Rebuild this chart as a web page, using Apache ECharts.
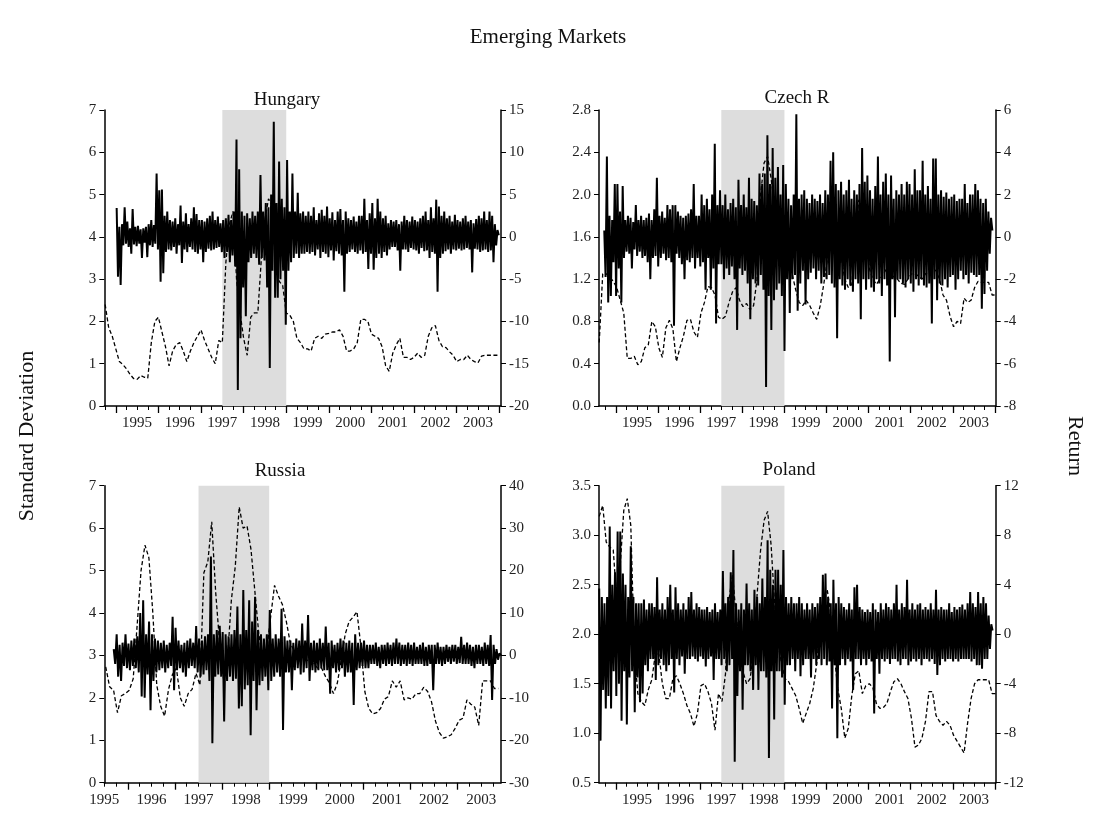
<!DOCTYPE html>
<html><head><meta charset="utf-8">
<script src="https://cdn.jsdelivr.net/npm/echarts@6/dist/echarts.min.js"></script>
<style>html,body{margin:0;padding:0;background:#fff}#c{width:1095px;height:813px}</style>
</head><body><div id="c"></div><script>
// ---------- DATA ----------
const yearLabels = [1995, 1996, 1997, 1998, 1999, 2000, 2001, 2002, 2003];
const shadeRange = [1997.0, 1998.5];
const stdStep = 1 / 12;   // monthly readings of the standard deviation
const retStep = 1 / 32;   // return readings

const huStdStart = 1994.25;
const huStd = [2.4,1.85,1.65,1.35,1.05,0.98,0.88,0.75,0.65,0.63,
0.72,0.68,0.66,1.5,2.0,2.1,1.75,1.4,0.95,1.3,
1.45,1.5,1.3,1.05,1.3,1.5,1.65,1.8,1.55,1.35,
1.15,1.0,1.55,1.5,3.4,4.3,4.6,3.0,2.2,1.6,
1.2,2.1,2.2,2.2,3.5,4.4,4.9,4.75,3.3,2.95,
2.85,2.2,2.15,2.0,1.6,1.5,1.35,1.35,1.3,1.6,
1.65,1.6,1.7,1.72,1.75,1.75,1.8,1.65,1.3,1.3,
1.35,1.5,2.05,2.05,2.0,1.7,1.65,1.6,1.4,0.95,
0.82,1.25,1.45,1.6,1.15,1.15,1.1,1.15,1.25,1.15,
1.2,1.65,1.85,1.9,1.55,1.4,1.38,1.28,1.2,1.05,
1.1,1.1,1.2,1.1,1.05,1.02,1.18,1.2,1.2,1.2,
1.2,1.2];
const huRetStart = 1994.52;
const huRet = [3.4,-4.7,1.2,-5.7,1.5,-1.0,3.5,-0.8,
1.8,-1.2,1.0,-2.0,3.3,-0.9,1.2,-1.1,
1.3,-0.8,0.9,-2.5,1.0,-0.7,1.2,-2.4,
1.5,-1.0,2.0,-1.2,1.4,-0.8,7.5,-1.5,
5.5,-5.3,5.6,-4.3,2.5,-1.8,3.0,-1.5,
2.0,-1.6,1.8,-1.2,2.2,-2.0,1.5,-1.0,
3.7,-3.1,1.8,-1.5,2.8,-1.8,1.5,-1.2,
2.2,-1.5,3.5,-1.8,2.7,-2.0,2.0,-1.5,
2.0,-3.0,1.8,-1.8,2.2,-1.4,2.5,-1.6,
3.0,-1.5,2.0,-1.3,2.4,-1.2,1.6,-1.8,
2.0,-2.5,2.2,-1.8,2.6,-3.0,2.0,-2.2,
3.0,-3.5,11.5,-18.1,8.0,-12.0,3.0,-6.0,
2.5,-9.4,2.8,-3.0,2.2,-2.5,3.0,-2.0,
2.5,-2.5,3.0,-3.3,7.3,-2.5,3.0,-2.8,
4.0,-6.0,3.5,-15.5,5.0,-4.0,13.6,-7.2,
4.0,-7.2,8.9,-5.0,4.5,-4.0,3.5,-10.4,
9.1,-4.0,3.0,-3.0,7.5,-2.5,3.0,-2.0,
5.2,-2.5,2.8,-2.0,3.0,-2.0,2.5,-1.8,
3.0,-2.0,2.5,-1.8,3.5,-2.2,2.0,-1.5,
2.8,-2.5,3.2,-1.8,2.5,-2.0,3.6,-2.4,
2.2,-1.6,2.9,-2.8,2.0,-1.7,3.0,-2.0,
3.3,-2.2,2.0,-6.5,3.0,-2.0,2.2,-1.8,
2.0,-1.5,2.4,-1.8,1.8,-2.0,2.5,-1.6,
2.5,-2.0,4.5,-1.8,2.0,-3.8,2.8,-2.0,
4.0,-3.9,2.2,-2.5,4.5,-2.0,3.0,-2.5,
2.2,-1.8,2.5,-2.2,1.6,-1.5,2.0,-1.2,
1.8,-1.2,2.0,-1.6,1.5,-4.0,1.8,-1.5,
2.5,-1.5,2.0,-1.8,1.8,-1.3,2.4,-1.5,
2.0,-1.6,1.8,-2.0,2.2,-1.3,2.5,-1.7,
3.0,-1.6,2.0,-2.5,3.5,-1.8,2.2,-2.0,
4.4,-6.5,3.6,-2.5,2.5,-2.0,3.0,-1.7,
2.2,-1.5,2.5,-2.0,1.8,-1.5,2.6,-1.6,
2.0,-1.4,1.8,-1.6,2.2,-1.5,2.5,-1.3,
1.8,-1.5,2.0,-4.2,1.6,-1.4,2.1,-1.5,
2.5,-1.8,2.2,-1.6,3.0,-1.5,2.0,-1.8,
3.0,-1.6,2.5,-3.0,1.5,-1.0,0.8,0.2];

const czStdStart = 1994.1;
const czStd = [0.6,1.25,1.25,1.22,1.18,1.12,1.0,0.88,0.45,0.45,
0.47,0.39,0.42,0.55,0.58,0.8,0.75,0.55,0.46,0.74,
0.81,0.73,0.42,0.55,0.66,0.81,0.82,0.7,0.65,0.88,
0.98,1.13,1.12,1.05,0.84,0.82,0.85,0.98,1.08,1.12,
1.0,0.94,0.97,0.91,0.95,1.2,2.0,2.3,2.36,2.15,
1.9,1.75,1.6,1.5,1.4,1.25,1.1,0.98,0.95,1.0,
0.95,0.88,0.82,0.95,1.15,1.38,1.5,1.6,1.55,1.4,
1.2,1.12,1.15,1.6,1.95,1.9,1.6,1.3,1.2,1.15,
1.2,1.25,1.3,1.25,1.22,1.2,1.16,1.15,1.2,1.25,
1.25,1.23,1.2,1.25,1.27,1.3,1.28,1.2,1.05,1.0,
0.85,0.75,0.8,0.78,1.02,0.98,1.0,1.12,1.18,1.17,
1.17,1.17,1.05,1.05];
const czRetStart = 1994.22;
const czRet = [0.3,-1.9,3.8,-3.1,1.0,-2.8,0.8,-1.2,
2.5,-2.8,2.5,-1.5,1.2,-3.1,2.4,-1.0,
0.8,-0.7,1.0,-0.8,0.9,-1.5,0.7,-0.6,
1.5,-0.9,0.8,-0.7,1.0,-1.0,0.8,-0.9,
0.9,-1.2,1.1,-2.0,0.8,-1.0,1.3,-0.9,
2.8,-1.4,1.0,-1.0,1.2,-0.8,0.9,-1.1,
1.5,-1.0,1.3,-1.2,1.5,-4.2,1.5,-0.8,
1.2,-1.0,1.0,-1.3,0.9,-2.0,1.0,-1.1,
1.1,-1.2,1.3,-1.0,2.5,-1.5,1.0,-1.0,
1.0,-1.4,2.0,-1.2,1.5,-2.5,1.8,-1.0,
1.3,-2.5,2.0,-1.5,4.4,-4.1,1.5,-1.3,
2.2,-1.3,1.5,-2.0,2.0,-1.5,1.3,-1.8,
1.6,-1.4,1.8,-2.0,1.4,-4.4,2.7,-1.5,
1.5,-1.8,2.0,-1.6,1.4,-2.2,2.8,-3.9,
1.8,-2.0,1.7,-2.2,1.5,-2.3,3.0,-1.8,
2.5,-2.5,3.0,-7.1,4.8,-2.8,2.5,-4.4,
4.2,-3.0,2.8,-2.5,3.3,-2.2,2.0,-2.8,
3.4,-5.4,2.5,-2.0,1.8,-3.6,1.5,-2.0,
2.0,-1.8,5.8,-3.5,1.8,-2.2,2.0,-1.6,
2.2,-3.2,1.8,-2.0,1.6,-1.7,2.0,-1.5,
1.8,-2.0,1.7,-1.6,2.0,-2.2,1.6,-1.9,
2.2,-2.0,2.0,-1.8,3.6,-2.2,4.0,-2.4,
2.5,-4.8,2.2,-2.0,2.6,-2.3,2.0,-2.5,
2.2,-2.0,2.7,-2.3,1.8,-2.6,2.2,-2.0,
2.0,-2.2,2.5,-3.9,4.2,-2.0,2.6,-2.5,
2.9,-2.0,2.2,-2.4,1.8,-2.6,2.4,-2.0,
3.8,-2.2,2.0,-2.8,2.6,-2.0,3.0,-2.3,
2.0,-5.9,2.9,-2.0,1.8,-3.8,2.2,-2.0,
2.0,-2.0,2.5,-2.2,2.0,-2.4,2.6,-2.0,
2.5,-2.2,2.0,-2.6,3.2,-2.0,2.2,-2.3,
2.2,-2.0,3.6,-2.3,2.0,-2.4,2.4,-2.2,
1.8,-4.1,3.7,-2.0,3.7,-3.0,2.0,-2.2,
2.2,-2.3,1.9,-2.0,2.1,-2.4,1.8,-1.9,
1.9,-1.8,2.0,-2.5,1.7,-2.0,1.8,-1.6,
1.8,-2.0,2.5,-1.8,1.6,-2.2,2.0,-1.7,
2.0,-1.8,2.5,-1.9,2.2,-1.8,1.8,-3.4,
1.6,-2.7,1.8,-1.6,1.2,-0.8,0.9,0.3];

const ruStdStart = 1995.03;
const ruStd = [2.73,2.26,2.18,1.65,2.05,2.1,2.18,2.45,3.7,5.0,
5.6,5.3,4.0,2.3,1.8,1.57,2.2,2.55,2.7,2.0,
1.8,2.1,2.2,2.58,2.3,4.95,5.2,6.15,4.5,3.3,
2.45,2.9,4.3,5.1,6.5,6.0,6.05,5.5,4.5,3.5,
2.9,3.1,3.9,4.65,4.4,4.2,3.8,3.3,3.1,3.0,
3.0,2.9,2.85,2.8,2.7,2.7,2.5,2.35,2.1,2.35,
2.9,3.5,3.8,3.9,4.03,3.2,2.15,1.75,1.62,1.65,
1.75,1.97,2.03,2.4,2.25,2.4,1.95,2.0,1.97,2.1,
2.1,2.25,2.15,1.9,1.45,1.18,1.05,1.08,1.13,1.28,
1.47,1.52,1.95,1.85,1.78,1.35,2.4,2.4,2.4,2.22,
2.22];
const ruRetStart = 1995.2;
const ruRet = [1.5,-2.0,5.0,-5.0,2.5,-6.0,3.0,-2.5,
5.0,-3.0,2.8,-3.5,3.5,-2.5,4.0,-3.0,
4.5,-4.0,10.0,-9.7,13.0,-10.0,5.0,-4.5,
8.0,-12.9,5.0,-6.0,4.0,-4.0,3.5,-3.5,
3.0,-3.0,3.5,-4.0,2.5,-3.0,3.0,-2.5,
9.1,-8.2,6.5,-3.5,3.5,-3.0,2.5,-4.0,
3.0,-5.0,3.5,-3.0,4.0,-2.5,3.0,-3.0,
6.9,-4.0,4.0,-5.0,3.5,-4.5,4.5,-3.5,
5.0,-6.0,23.3,-20.7,5.0,-5.0,6.0,-4.5,
7.0,-5.0,5.5,-15.6,5.0,-6.0,4.5,-5.0,
5.0,-6.0,6.0,-5.5,11.5,-12.5,5.0,-12.0,
15.4,-8.0,6.0,-7.0,13.0,-18.8,8.0,-6.0,
13.8,-12.9,6.0,-7.0,5.0,-6.0,4.0,-5.0,
5.0,-8.2,10.7,-6.0,4.0,-5.0,5.0,-4.0,
4.0,-5.0,11.0,-17.6,4.5,-4.0,3.5,-4.0,
3.5,-8.2,3.0,-3.5,4.0,-3.0,3.5,-4.5,
7.5,-4.0,3.5,-3.0,9.5,-6.0,3.0,-3.5,
3.5,-4.0,3.0,-3.5,4.0,-3.0,3.0,-3.5,
6.8,-3.5,3.0,-9.0,3.5,-3.0,2.5,-4.0,
3.0,-3.5,4.0,-3.0,3.5,-5.0,3.0,-4.0,
3.5,-4.0,3.0,-11.7,5.0,-3.5,3.0,-3.0,
3.0,-2.5,3.5,-3.0,2.5,-3.0,2.5,-2.0,
2.5,-2.0,3.0,-2.5,2.0,-3.0,2.5,-2.0,
2.5,-2.5,3.0,-2.0,2.5,-2.5,3.0,-2.0,
4.0,-2.0,3.0,-2.5,2.5,-2.0,2.5,-2.5,
3.0,-2.0,2.5,-2.5,3.0,-2.0,2.0,-2.0,
2.5,-2.0,3.0,-2.5,2.0,-2.5,2.5,-2.0,
2.5,-8.2,2.5,-2.0,3.0,-2.0,2.0,-2.5,
2.0,-2.0,2.5,-1.5,2.0,-2.0,2.5,-1.5,
2.5,-2.0,2.0,-1.8,4.4,-2.0,2.5,-2.0,
3.0,-2.0,2.5,-2.5,2.0,-3.0,2.5,-2.0,
2.5,-2.0,2.0,-2.5,3.0,-2.0,2.5,-2.5,
4.8,-10.5,2.5,-2.0,1.5,-1.0,0.5,0.0];

const plStdStart = 1994.1;
const plStd = [3.19,3.3,2.93,2.88,2.85,2.35,2.7,3.25,3.37,3.1,
1.85,1.4,1.32,1.28,1.44,1.54,1.8,1.8,1.5,1.35,
1.35,1.55,1.58,1.5,1.4,1.28,1.2,1.07,1.2,1.48,
1.5,1.42,1.3,1.03,1.4,1.32,1.6,2.35,2.6,2.2,
1.9,1.62,1.5,1.55,1.8,2.4,2.85,3.15,3.24,2.9,
2.3,1.9,1.7,1.55,1.52,1.45,1.38,1.25,1.1,1.2,
1.3,1.45,1.7,2.1,2.38,2.45,2.2,1.8,1.45,1.25,
0.95,1.05,1.38,1.6,1.63,1.4,1.48,1.5,1.46,1.3,
1.25,1.26,1.3,1.42,1.52,1.55,1.5,1.42,1.35,1.15,
0.86,0.88,0.95,1.12,1.42,1.42,1.18,1.12,1.08,1.12,
1.08,0.98,0.92,0.86,0.8,1.1,1.35,1.5,1.54,1.54,
1.54,1.54,1.4,1.4];
const plRetStart = 1994.1;
const plRet = [3.7,-8.6,3.0,-4.5,2.5,-6.0,3.0,-5.0,
8.7,-6.0,4.0,-3.0,5.0,-5.0,8.3,-4.0,
8.3,-7.0,4.9,-3.0,4.0,-7.3,3.0,-3.5,
7.1,-3.0,3.0,-6.3,2.5,-3.5,2.5,-5.5,
2.5,-4.8,2.8,-2.5,2.0,-3.0,2.5,-2.0,
2.5,-2.0,2.2,-3.7,4.6,-2.5,2.0,-2.0,
2.5,-2.5,2.0,-3.0,3.0,-2.5,4.0,-2.0,
2.0,-4.7,3.8,-2.0,2.5,-2.5,2.0,-1.8,
2.5,-3.2,2.0,-2.0,3.0,-2.0,3.4,-1.8,
2.0,-2.0,2.5,-2.2,2.2,-1.8,2.0,-2.0,
2.0,-2.6,2.2,-2.0,1.8,-1.8,2.0,-3.7,
2.5,-2.0,1.8,-2.0,2.0,-2.5,5.1,-2.0,
2.5,-3.0,3.0,-2.5,5.0,-2.0,6.8,-10.3,
2.5,-5.0,2.0,-3.0,2.5,-6.1,2.0,-2.5,
4.1,-2.5,2.5,-3.0,2.0,-4.5,3.6,-2.5,
3.0,-4.5,2.5,-3.0,4.5,-3.0,3.0,-3.5,
7.6,-10.0,5.2,-3.0,4.0,-6.9,5.2,-3.0,
5.2,-3.0,4.0,-3.5,6.8,-5.7,3.0,-2.5,
2.5,-2.5,3.0,-2.0,2.5,-3.0,2.5,-2.0,
3.0,-3.4,2.5,-2.5,2.0,-2.0,2.5,-2.0,
2.0,-3.5,2.5,-2.0,2.2,-2.5,2.5,-2.0,
3.0,-2.5,4.8,-2.0,4.9,-2.5,3.0,-2.2,
2.5,-6.0,4.4,-2.5,2.5,-8.4,3.0,-2.5,
2.5,-2.0,2.2,-2.5,2.0,-2.0,2.5,-2.2,
2.0,-4.5,3.8,-2.0,4.0,-2.0,2.2,-2.5,
2.0,-2.0,1.8,-2.5,2.0,-2.0,1.8,-2.2,
2.5,-6.4,2.0,-2.0,1.8,-3.2,2.5,-2.0,
2.0,-2.2,2.5,-2.0,2.2,-2.4,2.0,-2.0,
2.5,-2.0,4.0,-2.2,2.0,-2.5,2.5,-2.0,
2.2,-2.0,4.4,-2.5,2.0,-2.2,2.5,-2.0,
2.0,-2.2,2.4,-2.0,2.5,-2.5,2.0,-2.0,
2.2,-2.0,2.0,-2.2,2.5,-2.0,2.0,-2.4,
3.6,-3.3,2.0,-2.5,2.2,-2.0,2.0,-2.2,
2.0,-2.0,2.5,-2.0,1.8,-2.2,2.2,-2.0,
2.0,-2.2,2.2,-2.0,2.4,-2.0,2.0,-2.0,
2.5,-2.0,3.4,-2.2,2.5,-2.0,2.2,-2.5,
3.4,-2.5,2.5,-2.8,3.0,-2.0,2.5,-2.0,
1.5,-1.2,0.8,0.3];

// ---------- LAYOUT ----------
const FONT = '"Liberation Serif", "Times New Roman", serif';
const panels = [
  { name: 'Hungary', std: huStd, stdStart: huStdStart, ret: huRet, retStart: huRetStart,
    xMin: 1994.23, xMax: 2003.54, left: [0, 7, 1, 0], right: [-20, 15, 5],
    grid: { left: 104.3, top: 110, width: 396.7, height: 296 }, title: [287, 100] },
  { name: 'Czech R', std: czStd, stdStart: czStdStart, ret: czRet, retStart: czRetStart,
    xMin: 1994.095, xMax: 2003.518, left: [0, 2.8, 0.4, 1], right: [-8, 6, 2],
    grid: { left: 599, top: 110, width: 396.7, height: 296 }, title: [797, 98] },
  { name: 'Russia', std: ruStd, stdStart: ruStdStart, ret: ruRet, retStart: ruRetStart,
    xMin: 1995.0, xMax: 2003.42, left: [0, 7, 1, 0], right: [-30, 40, 10],
    grid: { left: 104.3, top: 485.7, width: 396.7, height: 297 }, title: [280, 471] },
  { name: 'Poland', std: plStd, stdStart: plStdStart, ret: plRet, retStart: plRetStart,
    xMin: 1994.095, xMax: 2003.518, left: [0.5, 3.5, 0.5, 1], right: [-12, 12, 4],
    grid: { left: 599, top: 485.7, width: 396.7, height: 297 }, title: [789, 470] }
];

function ticksAt(min, max, offsets) {
  const out = [];
  for (let y = Math.floor(min); y <= max; y++) {
    offsets.forEach(o => { const v = y + o; if (v >= min - 1e-9 && v <= max + 1e-9) out.push(v); });
  }
  return out;
}

const grids = [], xAxes = [], yAxes = [], series = [], graphics = [];
const txt = { color: '#222', fontFamily: FONT, fontSize: 15 };
panels.forEach((p, k) => {
  grids.push(Object.assign({ outerBoundsMode: 'none', containLabel: false }, p.grid));
  xAxes.push({
    type: 'value', gridIndex: k, position: 'bottom', min: p.xMin, max: p.xMax,
    axisLine: { show: true, onZero: false, lineStyle: { color: '#000', width: 1.5 } },
    axisTick: { show: true, length: 7, lineStyle: { color: '#000', width: 1.3 },
      customValues: ticksAt(p.xMin, p.xMax, [0.5]) },
    axisLabel: Object.assign({ show: true, margin: 10, customValues: yearLabels.filter(y => y >= p.xMin - 1e-9 && y <= p.xMax),
      formatter: v => String(Math.round(v)) }, txt),
    splitLine: { show: false }
  });
  xAxes.push({
    type: 'value', gridIndex: k, position: 'bottom', min: p.xMin, max: p.xMax,
    axisLine: { show: false, onZero: false },
    axisTick: { show: true, length: 4, lineStyle: { color: '#000', width: 1 },
      customValues: ticksAt(p.xMin, p.xMax, [0, 0.25, 0.75]) },
    axisLabel: { show: false }, splitLine: { show: false }
  });
  yAxes.push({
    type: 'value', gridIndex: k, position: 'left', min: p.left[0], max: p.left[1], interval: p.left[2],
    axisLine: { show: true, onZero: false, lineStyle: { color: '#000', width: 1.5 } },
    axisTick: { show: true, length: 5, lineStyle: { color: '#000', width: 1 } },
    axisLabel: Object.assign({ margin: 8, formatter: v => v.toFixed(p.left[3]) }, txt),
    splitLine: { show: false }
  });
  yAxes.push({
    type: 'value', gridIndex: k, position: 'right', min: p.right[0], max: p.right[1], interval: p.right[2],
    axisLine: { show: true, onZero: false, lineStyle: { color: '#000', width: 1.5 } },
    axisTick: { show: true, length: 5, lineStyle: { color: '#000', width: 1 } },
    axisLabel: Object.assign({ margin: 8, formatter: v => String(Math.round(v)) }, txt),
    splitLine: { show: false }
  });
  series.push({
    type: 'line', xAxisIndex: 2 * k, yAxisIndex: 2 * k, data: [], z: 1, silent: true,
    markArea: { silent: true, itemStyle: { color: '#dddddd', opacity: 1 }, label: { show: false },
      data: [[{ xAxis: shadeRange[0] }, { xAxis: shadeRange[1] }]] }
  });
  series.push({
    type: 'line', xAxisIndex: 2 * k, yAxisIndex: 2 * k, z: 2, symbol: 'none', silent: true,
    clip: true,
    lineStyle: { color: '#000', width: 1.3, type: [4, 2.5] },
    data: p.std.map((v, i) => [p.stdStart + i * stdStep, v])
  });
  series.push({
    type: 'line', xAxisIndex: 2 * k, yAxisIndex: 2 * k + 1, z: 3, symbol: 'none', silent: true,
    clip: true,
    lineStyle: { color: '#000', width: 2.0, join: 'bevel' },
    data: p.ret.map((v, i) => [p.retStart + i * retStep, v])
  });
  graphics.push({ type: 'text', x: p.title[0], y: p.title[1], z: 10,
    style: { text: p.name, font: '19px ' + FONT, fill: '#111', align: 'center', verticalAlign: 'middle',
      textAlign: 'center', textVerticalAlign: 'middle' } });
});

graphics.push({ type: 'text', x: 548, y: 37, style: { text: 'Emerging Markets', font: '21px ' + FONT, fill: '#111',
  align: 'center', verticalAlign: 'middle', textAlign: 'center', textVerticalAlign: 'middle' } });
graphics.push({ type: 'text', x: 27, y: 436, rotation: Math.PI / 2, style: { text: 'Standard Deviation', font: '22px ' + FONT,
  fill: '#111', align: 'center', verticalAlign: 'middle', textAlign: 'center', textVerticalAlign: 'middle' } });
graphics.push({ type: 'text', x: 1075, y: 446, rotation: -Math.PI / 2, style: { text: 'Return', font: '22px ' + FONT,
  fill: '#111', align: 'center', verticalAlign: 'middle', textAlign: 'center', textVerticalAlign: 'middle' } });

const chart = echarts.init(document.getElementById('c'), null, { renderer: 'canvas' });
chart.setOption({
  animation: false, backgroundColor: '#fff',
  grid: grids, xAxis: xAxes, yAxis: yAxes, series: series, graphic: graphics
});
</script></body></html>
